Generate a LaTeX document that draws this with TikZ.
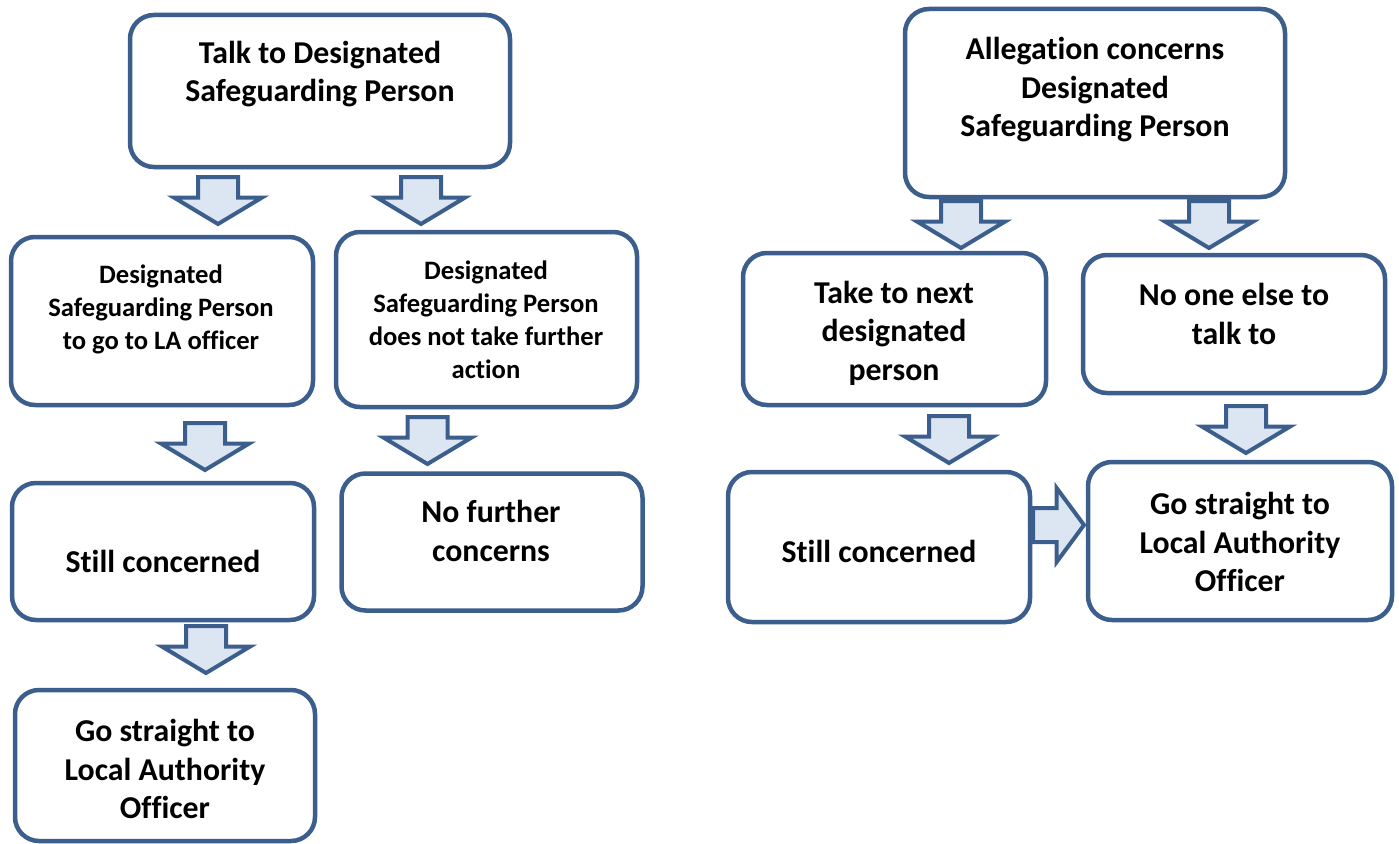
\documentclass[tikz,border=0pt]{standalone}
\usepackage{fontspec}
\setmainfont{Carlito}[Ligatures=NoCommon]
\usetikzlibrary{shapes.arrows}
\definecolor{frame}{HTML}{3B5E8C}
\definecolor{shade}{HTML}{DCE6F2}

\begin{document}
\begin{tikzpicture}
  [x=1pt,y=-1pt,
   box/.style={draw=frame,line width=4.5pt,rounded corners=24pt,fill=white},
   big/.style={font=\bfseries\fontsize{31.8}{38.5}\selectfont,align=center},
   small/.style={font=\bfseries\fontsize{26.6}{33}\selectfont,align=center},
   arr/.style={single arrow,draw=frame,fill=shade,line width=4pt,inner xsep=0pt,anchor=tail},
   down/.style={arr,rotate=-90,inner ysep=18pt,single arrow head extend=24pt,
     single arrow tip angle=118,minimum height=47pt},
   across/.style={arr,inner ysep=15pt,single arrow head extend=20pt,
     single arrow tip angle=107,minimum height=51pt}]
  \useasboundingbox (0,0) rectangle (1399,843);

  % left chart
  \node[box,minimum width=380,minimum height=152] (talk) at (320,91) {};
  \node[box,minimum width=302,minimum height=168] (dsplao) at (162,321) {};
  \node[box,minimum width=301,minimum height=175] (dspnone) at (486.5,319.5) {};
  \node[box,minimum width=302,minimum height=137] (still) at (163,551.5) {};
  \node[box,minimum width=301,minimum height=137] (nomore) at (492,542) {};
  \node[box,minimum width=300,minimum height=151] (lao) at (165,765.5) {};

  \node[big] (talk-t) at (320,74) {Talk to Designated\\Safeguarding Person};
  \node[small] (dsplao-t) at (161,309) {Designated\\Safeguarding Person\\to go to LA officer};
  \node[small] (dspnone-t) at (486,320) {Designated\\Safeguarding Person\\does not take further\\action};
  \node[big] (still-t) at (163,561) {Still concerned};
  \node[big] (nomore-t) at (491,531) {No further\\concerns};
  \node[big] (lao-t) at (165,769) {Go straight to\\Local Authority\\Officer};

  \node[down] (a1) at (218,175) {};
  \node[down] (a2) at (421,175) {};
  \node[down] (a3) at (205,421) {};
  \node[down] (a4) at (427.5,415) {};
  \node[down] (a5) at (206,624) {};

  % right chart
  \node[box,minimum width=380,minimum height=188] (alleg) at (1095,103) {};
  \node[box,minimum width=303,minimum height=152] (next) at (894.5,329) {};
  \node[box,minimum width=302,minimum height=138] (noone) at (1234,324) {};
  \node[box,minimum width=302,minimum height=150] (still2) at (879,547) {};
  \node[box,minimum width=304,minimum height=158] (lao2) at (1240,541) {};

  \node[big] (alleg-t) at (1095,90) {Allegation concerns\\Designated\\Safeguarding Person};
  \node[big] (next-t) at (894,333) {Take to next\\designated\\person};
  \node[big] (noone-t) at (1234,314) {No one else to\\talk to};
  \node[big] (still2-t) at (879,551) {Still concerned};
  \node[big] (lao2-t) at (1240,542) {Go straight to\\Local Authority\\Officer};

  \node[down] (a6) at (961,199) {};
  \node[down] (a7) at (1209,199) {};
  \node[down] (a8) at (949,414) {};
  \node[down] (a9) at (1246,404) {};
  \node[across] (a10) at (1031,525) {};

\end{tikzpicture}
\end{document}
